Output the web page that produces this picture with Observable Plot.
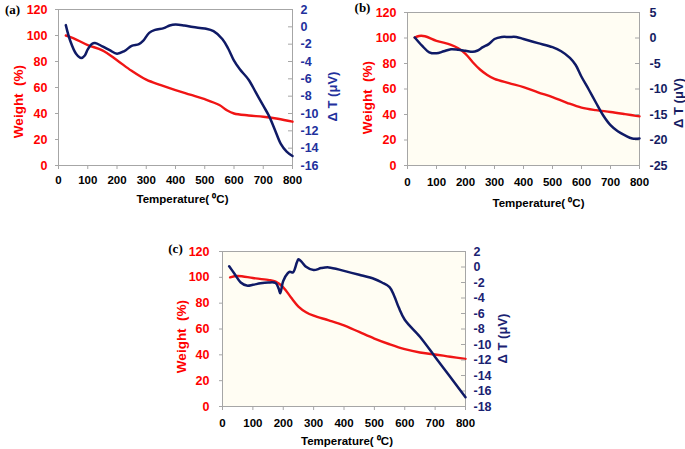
<!DOCTYPE html>
<html>
<head>
<meta charset="utf-8">
<script src="https://cdn.jsdelivr.net/npm/d3@7"></script>
<script src="https://cdn.jsdelivr.net/npm/@observablehq/plot@0.6"></script>
<style>
  html, body { margin: 0; padding: 0; background: #fff; }
  #chart { position: relative; width: 685px; height: 449px; overflow: hidden; }
  #chart svg { position: absolute; left: 0; top: 0; }
  .panel { position: absolute; }
</style>
</head>
<body>
<div id="chart"></div>
<script>
// ---------- data ----------
const tempTicks = [0, 100, 200, 300, 400, 500, 600, 700, 800];
const weightTicks = [0, 20, 40, 60, 80, 100, 120];

// (a)
const tempWA   = [25, 50, 100, 150, 200, 250, 300, 350, 400, 450, 500, 550, 575, 600, 650, 700, 750, 800];
const weightA  = [100, 98, 92.6, 88.6, 81, 72.8, 66, 61.8, 58, 54.5, 51, 46.5, 42.6, 40, 38.5, 37.5, 36, 33.7];
const tempDA   = [25, 40, 60, 78, 90, 100, 115, 125, 150, 175, 200, 225, 250, 275, 290, 310, 330, 360, 380, 400, 430, 460, 500, 530, 560, 580, 600, 620, 650, 675, 700, 720, 740, 760, 780, 800];
const dtA      = [0.2, -1.6, -3.1, -3.6, -3.3, -2.6, -1.95, -1.87, -2.25, -2.7, -3.1, -2.8, -2.2, -2.0, -1.6, -0.7, -0.35, -0.15, 0.16, 0.28, 0.16, -0.03, -0.2, -0.5, -1.4, -2.5, -3.9, -4.9, -6.1, -7.6, -9.1, -10.3, -11.9, -13.5, -14.4, -14.9];
const dtTicksA = [-16, -14, -12, -10, -8, -6, -4, -2, 0, 2];

// (b)
const tempWB   = [25, 40, 60, 100, 150, 175, 200, 225, 250, 275, 300, 350, 400, 450, 500, 550, 600, 650, 700, 750, 800];
const weightB  = [100.3, 101.6, 101.4, 97.8, 94.7, 92, 87.6, 81, 75.3, 71, 67.9, 64.6, 61.5, 57.4, 53.6, 49.2, 45.4, 43.4, 42, 40.3, 38.5];
const tempDB   = [25, 50, 75, 100, 125, 150, 175, 200, 225, 240, 260, 280, 300, 325, 350, 375, 400, 450, 500, 530, 560, 580, 600, 625, 650, 675, 700, 725, 750, 775, 800];
const dtB      = [0.1, -1.5, -2.8, -3.0, -2.6, -2.2, -2.3, -2.5, -2.7, -2.5, -1.8, -1.2, -0.2, 0.2, 0.2, 0.2, -0.2, -1.0, -1.8, -2.6, -3.9, -5.3, -7.6, -10.1, -12.7, -15.2, -17.1, -18.3, -19.1, -19.7, -19.7];
const dtTicksB = [-25, -20, -15, -10, -5, 0, 5];

// (c)
const tempWC   = [25, 50, 100, 150, 175, 200, 225, 250, 275, 300, 350, 400, 450, 500, 550, 600, 650, 700, 750, 800];
const weightC  = [100, 101, 99.5, 98, 96.7, 92.3, 84.6, 77.4, 73, 70.3, 66.7, 62.8, 57.7, 52.6, 48.2, 44.4, 41.8, 40.3, 38.5, 36.9];
const tempDC   = [22, 40, 60, 80, 100, 125, 150, 175, 185, 190, 200, 215, 222, 232, 245, 250, 260, 275, 300, 325, 350, 400, 450, 500, 525, 550, 565, 580, 600, 650, 700, 750, 800];
const dtC      = [0.1, -0.9, -2.0, -2.4, -2.3, -2.1, -2.0, -2.06, -2.8, -3.4, -1.8, -0.8, -0.6, -0.7, 0.6, 1.0, 0.7, 0.03, -0.4, -0.14, -0.05, -0.5, -1.0, -1.55, -2.0, -2.6, -3.7, -5.2, -6.8, -9.0, -11.6, -14.2, -16.8];
const dtTicksC = [-18, -16, -14, -12, -10, -8, -6, -4, -2, 0, 2];

// ---------- drawing ----------
const RED = "#ff0000";
const NAVY = "#0f1a66";
const GRID = "#a6a6a6";
const FONT = "'Liberation Sans', Arial, sans-serif";

function panel(cfg) {
  const div = document.createElement("div");
  div.className = "panel";
  div.style.left = cfg.left + "px";
  div.style.top = cfg.top + "px";
  div.style.width = cfg.width + "px";
  div.style.height = cfg.height + "px";
  const plotW = cfg.width - cfg.mL - cfg.mR;
  const common = {
    width: cfg.width, height: cfg.height,
    marginLeft: cfg.mL, marginRight: cfg.mR, marginTop: cfg.mT, marginBottom: cfg.mB,
    style: {background: "transparent", fontFamily: FONT, fontWeight: "bold", fontSize: "12px", overflow: "visible"}
  };
  const base = Plot.plot({
    ...common,
    x: {domain: [0, 800]},
    y: {domain: [0, 120]},
    marks: [
      Plot.frame({fill: cfg.bg, stroke: GRID}),
      Plot.axisX(tempTicks, {tickSize: 4, tickPadding: cfg.xPad, stroke: GRID, fill: "#000", fontSize: 11.5, tickFormat: d => String(d), label: null}),
      Plot.axisY(weightTicks, {anchor: "left", tickSize: 3, tickPadding: cfg.lPad, stroke: GRID, fill: RED, fontSize: 12.5, tickFormat: d => String(d), label: null}),
      Plot.line(weightTicks.length ? cfg.tw : [], {x: cfg.tw, y: cfg.w, stroke: "#f01515", strokeWidth: 2.4, curve: "catmull-rom"}),
      Plot.text(["Weight  (%)"], {frameAnchor: "left", dx: cfg.wLab[0], dy: cfg.wLab[1], rotate: -90, textAnchor: "middle", lineAnchor: "middle", fill: RED, fontSize: 13.5}),
      Plot.text(["Temperature( \u2070C)"], {frameAnchor: "bottom", dx: cfg.xLab[0], dy: cfg.xLab[1], textAnchor: "middle", lineAnchor: "middle", fill: "#000", fontSize: 11.5}),
      Plot.text([cfg.label], {frameAnchor: "top-left", dx: cfg.pLab[0], dy: cfg.pLab[1], textAnchor: "middle", lineAnchor: "middle", fill: "#000", fontSize: 13, fontFamily: "'Liberation Serif', 'Times New Roman', serif"})
    ]
  });
  const over = Plot.plot({
    ...common,
    x: {domain: [0, 800], axis: null},
    y: {domain: cfg.dtDomain},
    marks: [
      Plot.tickY(cfg.dtTicks, {y: d => d, stroke: GRID, insetLeft: plotW - 4}),
      Plot.axisY(cfg.dtTicks, {anchor: "right", tickSize: 0, tickPadding: cfg.rPad, fill: cfg.rColor, fontSize: 12.5, tickFormat: d => String(d), label: null}),
      Plot.line(cfg.td, {x: cfg.td, y: cfg.dt, stroke: NAVY, strokeWidth: 2.5, curve: "catmull-rom"}),
      Plot.text(["\u0394 T (\u03bcV)"], {frameAnchor: "right", dx: cfg.dLab[0], dy: cfg.dLab[1], rotate: -90, textAnchor: "middle", lineAnchor: "middle", fill: cfg.rColor, fontSize: 13})
    ]
  });
  div.appendChild(base);
  div.appendChild(over);
  document.getElementById("chart").appendChild(div);
}

panel({
  left: 0, top: 0, width: 345, height: 215, mL: 58, mR: 53, mT: 9, mB: 50,
  tw: tempWA, w: weightA, td: tempDA, dt: dtA, dtDomain: [-16, 2], dtTicks: dtTicksA,
  bg: "#ffffff", rColor: "#22309c", label: "(a)",
  xPad: 6, lPad: 8, rPad: 8,
  wLab: [-40, 14], dLab: [40, 9], xLab: [7, 34], pLab: [-46, 0]
});
panel({
  left: 340, top: 0, width: 345, height: 215, mL: 67, mR: 46, mT: 12, mB: 50,
  tw: tempWB, w: weightB, td: tempDB, dt: dtB, dtDomain: [-25, 5], dtTicks: dtTicksB,
  bg: "#fffdf3", rColor: "#151c62", label: "(b)",
  xPad: 8, lPad: 8, rPad: 10,
  wLab: [-40, 8.5], dLab: [39, 14], xLab: [15, 38], pLab: [-45, -5]
});
panel({
  left: 160, top: 230, width: 350, height: 219, mL: 62, mR: 45, mT: 21, mB: 43,
  tw: tempWC, w: weightC, td: tempDC, dt: dtC, dtDomain: [-18, 2], dtTicks: dtTicksC,
  bg: "#fffdf3", rColor: "#1a2272", label: "(c)",
  xPad: 8, lPad: 10, rPad: 8,
  wLab: [-41, 7.5], dLab: [37, 9.5], xLab: [3, 35], pLab: [-47, -3]
});
</script>
</body>
</html>
